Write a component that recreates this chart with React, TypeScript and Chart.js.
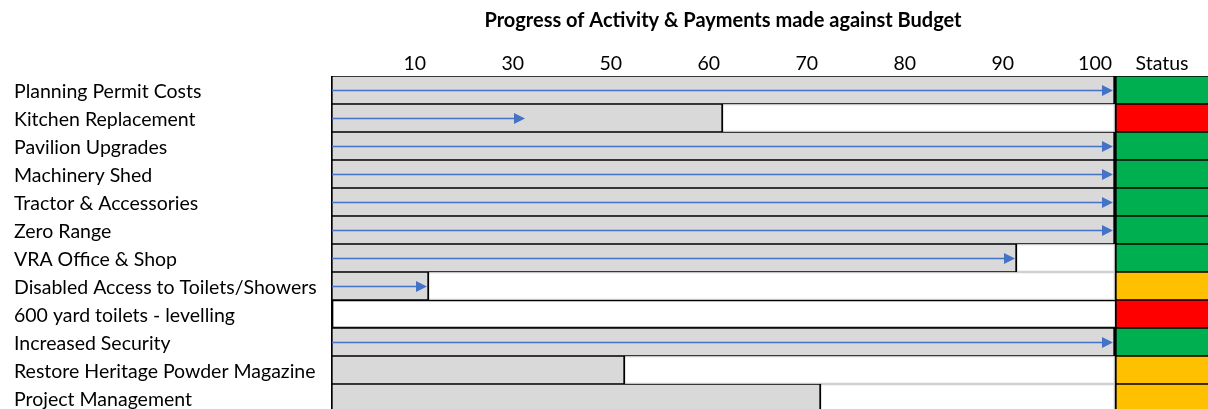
import React, { useEffect, useRef } from 'react';
import { Chart, registerables } from 'chart.js';

Chart.register(...registerables);

const chartTitle = 'Progress of Activity & Payments made against Budget';
const tasks = [
  'Planning Permit Costs',
  'Kitchen Replacement',
  'Pavilion Upgrades',
  'Machinery Shed',
  'Tractor & Accessories',
  'Zero Range',
  'VRA Office & Shop',
  'Disabled Access to Toilets/Showers',
  '600 yard toilets - levelling',
  'Increased Security',
  'Restore Heritage Powder Magazine',
  'Project Management',
];
const headerLabels = ['10', '30', '50', '60', '70', '80', '90', '100'];
const statusHeader = 'Status';
// Activity progress (filled cells), in header-label units
const progress = [100, 60, 100, 100, 100, 100, 90, 10, 0, 100, 50, 70];
// Payments made (arrows), in header-label units
const payments: (number | null)[] = [100, 30, 100, 100, 100, 100, 90, 10, null, 100, null, null];
const status = ['green', 'red', 'green', 'green', 'green', 'green', 'green', 'amber', 'red', 'green', 'amber', 'amber'];

const STATUS_COLORS: Record<string, string> = { green: '#00B050', red: '#FF0000', amber: '#FFC000' };
const FONT = 'Lato';

const colPos = (v: number) => (v === 0 ? 0 : headerLabels.indexOf(String(v)) + 1);
const nCols = headerLabels.length;

const overlayPlugin = {
  id: 'overlay',
  afterDatasetsDraw(chart: any) {
    const { ctx, scales } = chart;
    const xs = scales.x;
    const ys = scales.y;
    ctx.save();
    ctx.strokeStyle = '#4472C4';
    ctx.fillStyle = '#4472C4';
    ctx.lineWidth = 1.3;
    payments.forEach((p, i) => {
      if (p == null) return;
      const y = Math.round(ys.getPixelForValue(i)) + 0.5;
      const x0 = xs.getPixelForValue(0) + 1;
      const x1 = xs.getPixelForValue(colPos(p)) - 2;
      ctx.beginPath();
      ctx.moveTo(x0, y);
      ctx.lineTo(x1 - 9, y);
      ctx.stroke();
      ctx.beginPath();
      ctx.moveTo(x1 - 11, y - 5.5);
      ctx.lineTo(x1, y);
      ctx.lineTo(x1 - 11, y + 5.5);
      ctx.closePath();
      ctx.fill();
    });
    ctx.restore();
  },
  afterDraw(chart: any) {
    const { ctx, scales } = chart;
    const xs = scales.x;
    ctx.save();
    ctx.fillStyle = '#000';
    ctx.textBaseline = 'middle';
    ctx.font = `bold 20px ${FONT}`;
    ctx.textAlign = 'center';
    ctx.fillText(chartTitle, (xs.getPixelForValue(0) + xs.getPixelForValue(nCols)) / 2, 21);
    ctx.font = `19.5px ${FONT}`;
    ctx.textAlign = 'right';
    headerLabels.forEach((l, i) => {
      ctx.fillText(l, xs.getPixelForValue(i + 1) - 3, 64);
    });
    ctx.textAlign = 'center';
    ctx.fillText(statusHeader, xs.getPixelForValue(nCols) + 47, 64);
    ctx.restore();
  },
};

export default function App() {
  const ref = useRef<HTMLCanvasElement | null>(null);
  useEffect(() => {
    if (!ref.current) return;
    const chart = new Chart(ref.current, {
      type: 'bar',
      data: {
        labels: tasks,
        datasets: [
          {
            label: 'Progress',
            data: progress.map((v) => (v === 0 ? null : colPos(v))),
            backgroundColor: '#D9D9D9',
            borderColor: '#000000',
            borderWidth: { top: 1, bottom: 1, left: 2, right: 2 },
            borderSkipped: false,
            grouped: false,
            barPercentage: 1,
            categoryPercentage: 1,
          } as any,
          {
            label: 'Status',
            data: status.map(() => [nCols, nCols + 1]),
            backgroundColor: status.map((s) => STATUS_COLORS[s]),
            borderColor: '#000000',
            borderWidth: { top: 1, bottom: 1, left: 2, right: 0 },
            borderSkipped: false,
            grouped: false,
            barPercentage: 1,
            categoryPercentage: 1,
          } as any,
          {
            label: 'Frame',
            data: tasks.map(() => [0, nCols]),
            backgroundColor: 'rgba(0,0,0,0)',
            borderColor: progress.map((v) => (v === 0 ? '#000000' : '#D0D0D0')),
            borderWidth: progress.map((v) => (v === 0 ? { top: 1, bottom: 1, left: 2, right: 0 } : 1)),
            borderSkipped: false,
            grouped: false,
            barPercentage: 1,
            categoryPercentage: 1,
          } as any,
        ],
      },
      options: {
        indexAxis: 'y',
        responsive: false,
        animation: false,
        layout: { padding: { left: 14, top: 0, right: 0, bottom: 0 } },
        plugins: {
          legend: { display: false },
          title: { display: false },
          tooltip: { enabled: false },
        },
        scales: {
          x: {
            type: 'linear',
            position: 'top',
            min: 0,
            max: nCols + 1,
            grid: { display: false },
            border: { display: false },
            ticks: { display: false },
            afterFit: (s: any) => {
              s.height = 76;
              s.paddingLeft = 0;
              s.paddingRight = 0;
            },
          },
          y: {
            type: 'category',
            grid: { display: false },
            border: { display: false },
            ticks: {
              crossAlign: 'far',
              color: '#000',
              padding: 0,
              labelOffset: 2,
              font: { family: FONT, size: 19.5 },
              autoSkip: false,
            },
            afterFit: (s: any) => {
              s.width = 317;
              s.paddingTop = 0;
              s.paddingBottom = 0;
            },
          },
        },
      } as any,
      plugins: [overlayPlugin],
    });
    return () => chart.destroy();
  }, []);
  return (
    <div style={{ position: 'fixed', left: 0, top: 0, width: 1208, height: 409, overflow: 'hidden', background: '#fff' }}>
      <canvas ref={ref} width={1213} height={412} />
    </div>
  );
}
